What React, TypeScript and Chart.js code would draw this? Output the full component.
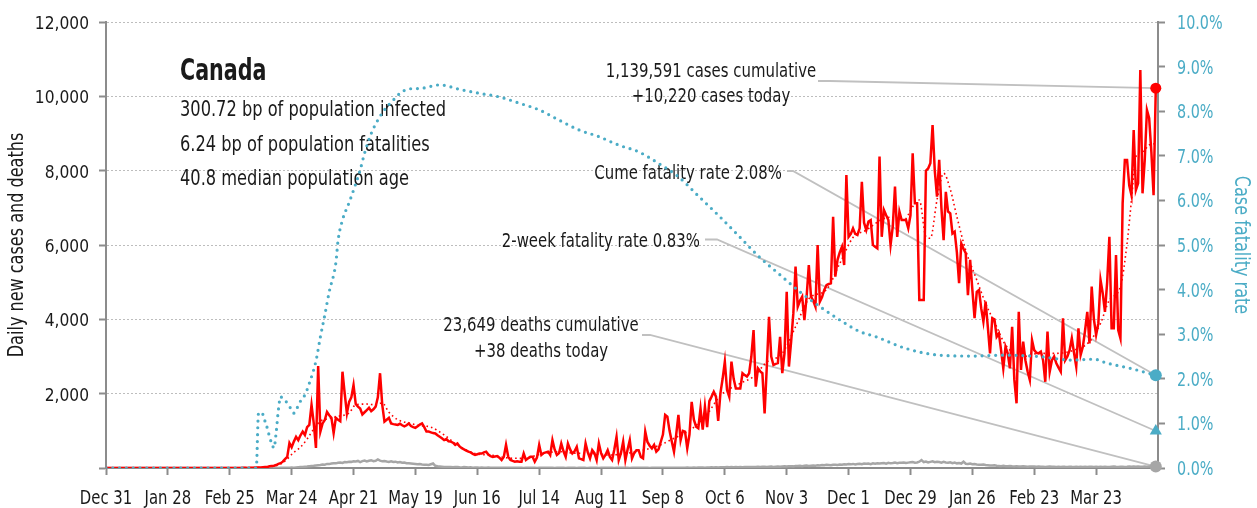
import React, { useEffect, useRef } from 'react';
import { Chart, registerables } from 'chart.js';

Chart.register(...registerables);

const FONT = "'Liberation Sans Narrow', 'DejaVu Sans Condensed', 'Arial Narrow', sans-serif";
const RED = '#ff0000';
const TEAL = '#4bacc6';
const GRAY = '#a6a6a6';
const AXIS = '#8c8c8c';
const TEXT = '#1a1a1a';

// x ticks: day index from Dec 31, 2019
const tickDays = [0, 28, 56, 84, 112, 140, 168, 196, 224, 252, 280, 308, 336, 364, 392, 420, 448];
const tickLabels = ['Dec 31', 'Jan 28', 'Feb 25', 'Mar 24', 'Apr 21', 'May 19', 'Jun 16', 'Jul 14', 'Aug 11', 'Sep 8', 'Oct 6', 'Nov 3', 'Dec 1', 'Dec 29', 'Jan 26', 'Feb 23', 'Mar 23'];
const axisMaxDay = 476;

// daily new cases, one value per day starting Dec 31, 2019
const dailyCases = [
  0, 0, 0, 0, 0, 0, 0, 0, 0, 0,
  0, 0, 0, 0, 0, 0, 0, 0, 0, 0,
  0, 0, 0, 0, 0, 1, 0, 1, 0, 0,
  1, 0, 1, 1, 0, 0, 0, 0, 0, 1,
  0, 0, 0, 0, 0, 0, 0, 0, 0, 0,
  0, 1, 0, 1, 0, 1, 1, 2, 1, 2,
  3, 3, 6, 4, 3, 5, 8, 6, 12, 15,
  15, 20, 25, 30, 45, 55, 60, 80, 110, 130,
  170, 240, 300, 670, 560, 710, 840, 750, 880, 980,
  890, 1100, 1160, 1700, 1210, 540, 2745, 980, 1200, 1290,
  1510, 1420, 1350, 940, 1350, 1300, 1260, 2590, 2010, 1470,
  1780, 1900, 2230, 1720, 1650, 1600, 1440, 1500, 1560, 1620,
  1530, 1580, 1650, 1900, 2550, 1700, 1250, 1300, 1350, 1200,
  1180, 1170, 1160, 1190, 1150, 1120, 1150, 1200, 1130, 1100,
  1080, 1120, 1170, 1200, 1100, 980, 980, 960, 940, 930,
  880, 840, 800, 750, 780, 720, 710, 680, 620, 660,
  580, 530, 500, 470, 440, 420, 380, 350, 370, 390,
  390, 420, 440, 360, 320, 300, 310, 320, 280, 215,
  300, 620, 300, 215, 190, 170, 180, 170, 170, 390,
  215, 260, 300, 300, 170, 280, 620, 350, 400, 420,
  440, 350, 750, 500, 350, 400, 660, 450, 300, 660,
  500, 390, 450, 570, 260, 240, 215, 660, 420, 260,
  480, 400, 215, 660, 400, 260, 350, 480, 300, 215,
  500, 840, 215, 400, 710, 215, 500, 750, 260, 400,
  480, 480, 300, 260, 980, 700, 600, 530, 620, 440,
  500, 700, 900, 1430, 1380, 1000, 710, 440, 900, 1430,
  750, 1000, 980, 530, 900, 1780, 1300, 1110, 1070, 1600,
  1030, 1650, 1100, 1800, 1920, 2050, 1920, 1270, 2010, 2400,
  2860, 2100, 1920, 2860, 2400, 2140, 2140, 2140, 2550, 2500,
  2460, 2550, 3000, 3710, 2190, 2680, 2600, 2550, 1470, 2730,
  4070, 3000, 2770, 2800, 2820, 3530, 2550, 3085, 4740, 2730,
  3400, 4160, 5420, 4340, 4500, 4610, 3980, 4600, 5460, 4610,
  4500, 4340, 6000, 4475, 4600, 4790, 4920, 4950, 4970, 6760,
  5150, 5600, 5800, 5950, 5460, 7880, 6220, 6300, 6450, 6300,
  6270, 6450, 7700, 6600, 6400, 6630, 6670, 6000, 5950, 5910,
  8380, 6220, 6940, 6800, 6670, 6000, 6500, 7570, 6220, 6900,
  6670, 6670, 6670, 6450, 6800, 8470, 7120, 7120, 4520, 4520,
  4520, 8000, 8060, 8200, 9230, 8000, 7300, 8290, 7000, 6130,
  7430, 6900, 6850, 6310, 6360, 5800, 4970, 6040, 5900, 5780,
  4650, 5600, 4800, 4030, 4740, 4790, 4300, 3940, 4475, 3800,
  3085, 4030, 4000, 3530, 3620, 3170, 2680, 3260, 3085, 2680,
  3800, 2370, 1740, 4200, 2640, 3400, 2900, 2600, 2370, 3440,
  3170, 3100, 3085, 3130, 2900, 2320, 3670, 2590, 2900, 3000,
  2820, 2700, 2590, 4030, 2900, 3000, 3170, 3490, 3100, 2730,
  3760, 3040, 3260, 3700, 4200, 3350, 4880, 4000, 3580, 3890,
  5060, 4700, 4200, 5000, 6220, 3760, 3760, 5730, 3710, 3490,
  7120, 8290, 8290, 7600, 7340, 9090, 7480, 7660, 10710, 7390,
  8290, 9630, 9410, 8500, 7340, 10220,
];

// daily deaths, one value per day starting Dec 31, 2019
const dailyDeaths = [
  0, 0, 0, 0, 0, 0, 0, 0, 0, 0,
  0, 0, 0, 0, 0, 0, 0, 0, 0, 0,
  0, 0, 0, 0, 0, 0, 0, 0, 0, 0,
  0, 0, 0, 0, 0, 0, 0, 0, 0, 0,
  0, 0, 0, 0, 0, 0, 0, 0, 0, 0,
  0, 0, 0, 0, 0, 0, 0, 0, 0, 0,
  0, 0, 0, 0, 0, 0, 0, 0, 0, 1,
  0, 0, 0, 1, 0, 1, 2, 3, 1, 4,
  5, 6, 8, 9, 12, 10, 15, 20, 25, 27,
  33, 40, 50, 55, 60, 70, 75, 80, 95, 90,
  110, 105, 120, 130, 125, 140, 150, 135, 160, 155,
  170, 165, 180, 175, 190, 160, 185, 200, 175, 195,
  210, 185, 195, 230, 200, 180, 190, 175, 165, 180,
  160, 170, 150, 160, 140, 145, 130, 125, 120, 115,
  110, 100, 105, 95, 90, 85, 80, 100, 120, 60,
  45, 40, 35, 30, 30, 25, 30, 20, 25, 30,
  20, 15, 25, 20, 15, 20, 10, 15, 12, 10,
  15, 10, 8, 12, 10, 8, 10, 6, 8, 10,
  7, 5, 6, 8, 5, 4, 6, 7, 5, 3,
  5, 6, 4, 8, 5, 3, 4, 6, 5, 7,
  4, 5, 6, 3, 5, 4, 6, 7, 3, 5,
  4, 6, 5, 3, 4, 5, 7, 4, 3, 5,
  6, 4, 5, 3, 6, 4, 5, 7, 4, 5,
  3, 5, 6, 4, 5, 4, 6, 3, 5, 6,
  4, 5, 7, 4, 6, 5, 3, 6, 8, 5,
  6, 4, 7, 8, 5, 6, 9, 7, 8, 10,
  8, 6, 9, 11, 7, 10, 12, 9, 13, 11,
  14, 10, 15, 13, 17, 15, 20, 16, 22, 18,
  21, 25, 19, 24, 22, 26, 20, 28, 23, 25,
  27, 30, 24, 29, 26, 32, 28, 31, 35, 27,
  33, 38, 30, 36, 40, 34, 42, 45, 38, 48,
  50, 44, 55, 52, 60, 48, 58, 65, 55, 62,
  70, 64, 75, 68, 78, 72, 85, 80, 74, 88,
  90, 82, 95, 88, 100, 92, 105, 98, 110, 95,
  108, 115, 100, 120, 112, 118, 105, 125, 115, 130,
  120, 128, 135, 118, 140, 125, 132, 145, 130, 138,
  140, 150, 135, 145, 155, 160, 140, 150, 170, 215,
  160, 175, 150, 165, 180, 155, 170, 160, 145, 165,
  150, 140, 155, 130, 145, 125, 135, 120, 170, 115,
  110, 120, 100, 105, 95, 90, 85, 95, 80, 75,
  70, 65, 75, 60, 55, 50, 60, 45, 50, 55,
  45, 40, 50, 42, 38, 45, 40, 35, 42, 38,
  40, 35, 38, 32, 36, 30, 34, 38, 32, 35,
  30, 33, 28, 35, 31, 29, 36, 32, 30, 34,
  28, 32, 30, 35, 27, 31, 33, 29, 36, 30,
  32, 28, 35, 30, 26, 33, 38, 31, 29, 34,
  36, 30, 33, 41, 35, 38, 32, 40, 36, 34,
  39, 35, 42, 37, 33, 38,
];

// 7-day average of cases (dotted red), read at sample days
const avgDays = [0, 70, 75, 80, 85, 88, 91, 94, 97, 101, 105, 110, 113, 118, 122, 125, 128, 132, 137, 142, 147, 153, 159, 167, 175, 182, 189, 197, 205, 212, 220, 228, 235, 243, 250, 257, 265, 272, 278, 287, 293, 299, 306, 312, 318, 326, 332, 338, 344, 350, 355, 361, 365, 368, 371, 373, 376, 379, 382, 385, 389, 394, 398, 403, 407, 415, 422, 430, 438, 445, 450, 454, 459, 462, 464, 466, 469, 472, 475];
const avgCases = [0, 10, 40, 140, 420, 560, 780, 1050, 1260, 1330, 1390, 1480, 1700, 1720, 1700, 1750, 1500, 1300, 1210, 1140, 1100, 890, 620, 390, 340, 270, 260, 380, 440, 400, 390, 350, 390, 480, 600, 800, 1050, 1450, 1950, 2280, 2460, 2850, 3085, 3800, 4550, 4800, 5500, 6200, 6400, 6650, 6750, 6670, 7030, 7210, 6220, 6180, 7210, 7930, 7500, 6760, 5860, 5060, 4430, 3800, 3310, 3000, 3085, 3085, 3170, 3400, 3890, 4520, 4880, 6040, 7210, 8380, 8510, 8690, 8730];

// cumulative case fatality rate (%), read at sample days
const cfrDays = [0, 68, 69, 70, 71, 72, 73, 74, 75, 76, 77, 78, 79, 80, 82, 84, 85, 86, 88, 90, 92, 95, 97, 99, 101, 104, 105, 107, 110, 112, 115, 117, 120, 123, 126, 130, 133, 137, 142, 151, 160, 169, 178, 187, 196, 205, 214, 223, 232, 241, 250, 259, 268, 277, 286, 295, 305, 314, 323, 332, 341, 348, 362, 377, 392, 407, 422, 437, 447, 453, 463, 475];
const cfrValues = [0, 0, 1.23, 1.25, 1.2, 1.04, 0.89, 0.7, 0.55, 0.45, 0.8, 1.3, 1.6, 1.55, 1.46, 1.3, 1.23, 1.3, 1.5, 1.64, 1.9, 2.4, 2.94, 3.43, 3.95, 4.6, 5.1, 5.56, 5.95, 6.23, 6.68, 7.06, 7.5, 7.8, 8.03, 8.25, 8.4, 8.5, 8.51, 8.59, 8.49, 8.4, 8.32, 8.18, 8.03, 7.8, 7.58, 7.43, 7.24, 7.09, 6.83, 6.53, 6.1, 5.67, 5.22, 4.76, 4.33, 3.95, 3.62, 3.32, 3.06, 2.95, 2.68, 2.53, 2.51, 2.53, 2.5, 2.42, 2.44, 2.35, 2.24, 2.08];

const cumeFatalityRate = 2.08;
const twoWeekFatalityRate = 0.83;
const cumulativeCases = '1,139,591';
const cumulativeDeaths = '23,649';

const statLines = ['300.72 bp of population infected', '6.24 bp of population fatalities', '40.8 median population age'];

const fmt = (n: number) => n.toLocaleString('en-US');
const xLabel = (v: number) => {
  const i = tickDays.indexOf(Number(v));
  return i >= 0 ? tickLabels[i] : '';
};
const yLabel = (v: number) => (Number(v) === 0 ? '' : fmt(Number(v)));
const pctLabel = (v: number) => `${Number(v).toFixed(1)}%`;

export default function App() {
  const ref = useRef<HTMLCanvasElement | null>(null);

  useEffect(() => {
    const canvas = ref.current;
    if (!canvas) return;
    const lastDay = dailyCases.length - 1;
    const lastCases = dailyCases[lastDay];
    const lastDeaths = dailyDeaths[dailyDeaths.length - 1];

    // draws text horizontally condensed (the reference uses a narrow face)
    const text = (ctx: any, s: string, x: number, y: number, font: string, align: string, sx: number, color: string, rot = 0) => {
      ctx.save();
      ctx.translate(x, y);
      if (rot) ctx.rotate(rot);
      ctx.scale(sx, 1);
      ctx.font = font;
      ctx.fillStyle = color;
      ctx.textAlign = align;
      ctx.fillText(s, 0, 0);
      ctx.restore();
    };

    const annotations = {
      id: 'annotations',
      beforeDatasetsDraw(chart: any) {
        const { ctx, chartArea } = chart;
        const xs = chart.scales.x;
        const ys = chart.scales.y;
        const y1 = chart.scales.y1;
        const mx = xs.getPixelForValue(lastDay);
        ctx.save();

        // axis titles
        const midY = (chartArea.top + chartArea.bottom) / 2;
        ctx.textBaseline = 'middle';
        text(ctx, 'Daily new cases and deaths', 18, midY, `21px ${FONT}`, 'center', 0.85, TEXT, -Math.PI / 2);
        text(ctx, 'Case fatality rate', 1240, midY, `21px ${FONT}`, 'center', 0.85, TEAL, Math.PI / 2);
        ctx.textBaseline = 'alphabetic';

        // title block
        text(ctx, 'Canada', 180, 80, `bold 31px ${FONT}`, 'left', 0.74, TEXT);
        statLines.forEach((t, i) => text(ctx, t, 180, 116 + i * 34.5, `22px ${FONT}`, 'left', 0.82, TEXT));

        // annotation texts
        const af = `19.5px ${FONT}`;
        text(ctx, `${cumulativeCases} cases cumulative`, 711, 77, af, 'center', 0.85, TEXT);
        text(ctx, `+${fmt(lastCases)} cases today`, 711, 102, af, 'center', 0.85, TEXT);
        text(ctx, `${cumulativeDeaths} deaths cumulative`, 541, 331, af, 'center', 0.85, TEXT);
        text(ctx, `+${fmt(lastDeaths)} deaths today`, 541, 357, af, 'center', 0.85, TEXT);
        text(ctx, `Cume fatality rate ${cumeFatalityRate.toFixed(2)}%`, 782, 179, af, 'right', 0.85, TEXT);
        text(ctx, `2-week fatality rate ${twoWeekFatalityRate.toFixed(2)}%`, 700, 247, af, 'right', 0.85, TEXT);

        // leader lines
        ctx.strokeStyle = '#c0c0c0';
        ctx.lineWidth = 1.8;
        const leader = (x0: number, yy: number, x1: number, tx: number, ty: number) => {
          ctx.beginPath();
          ctx.moveTo(x0, yy);
          ctx.lineTo(x1, yy);
          ctx.lineTo(tx, ty);
          ctx.stroke();
        };
        leader(818, 81, 830, mx, ys.getPixelForValue(lastCases));
        leader(787, 171, 793, mx, y1.getPixelForValue(cumeFatalityRate));
        leader(705, 239.5, 717, mx, y1.getPixelForValue(twoWeekFatalityRate));
        leader(642, 335, 650, mx, ys.getPixelForValue(lastDeaths));
        ctx.restore();
      },
      afterDraw(chart: any) {
        // tick labels, placed from the library's own scale ticks
        const { ctx } = chart;
        const xs = chart.scales.x;
        const ys = chart.scales.y;
        const y1 = chart.scales.y1;
        ctx.save();
        ctx.textBaseline = 'alphabetic';
        ys.ticks.forEach((t: any) => {
          const lab = yLabel(t.value);
          if (lab) text(ctx, lab, 89, ys.getPixelForValue(t.value) + 7, `18.5px ${FONT}`, 'right', 0.93, TEXT);
        });
        y1.ticks.forEach((t: any) => {
          text(ctx, pctLabel(t.value), 1177, y1.getPixelForValue(t.value) + 7, `19px ${FONT}`, 'left', 0.84, TEAL);
        });
        xs.ticks.forEach((t: any) => {
          const lab = xLabel(t.value);
          if (lab) text(ctx, lab, xs.getPixelForValue(t.value), 503.5, `19px ${FONT}`, 'center', 0.87, TEXT);
        });
        ctx.restore();
      },
    };

    const chart = new Chart(canvas, {
      type: 'line',
      data: {
        datasets: [
          {
            label: 'cases marker',
            data: [{ x: lastDay, y: lastCases }],
            yAxisID: 'y',
            showLine: false,
            pointRadius: 5.5,
            pointBackgroundColor: RED,
            pointBorderWidth: 0,
            clip: false,
            order: -1,
          },
          {
            label: 'cfr marker',
            data: [{ x: lastDay, y: cumeFatalityRate }],
            yAxisID: 'y1',
            showLine: false,
            pointRadius: 6,
            pointBackgroundColor: TEAL,
            pointBorderWidth: 0,
            clip: false,
            order: -1,
          },
          {
            label: '2wk marker',
            data: [{ x: lastDay, y: twoWeekFatalityRate }],
            yAxisID: 'y1',
            showLine: false,
            pointStyle: 'triangle',
            pointRadius: 7,
            pointBackgroundColor: TEAL,
            pointBorderWidth: 0,
            clip: false,
            order: -1,
          },
          {
            label: 'deaths marker',
            data: [{ x: lastDay, y: lastDeaths }],
            yAxisID: 'y',
            showLine: false,
            pointRadius: 6,
            pointBackgroundColor: GRAY,
            pointBorderWidth: 0,
            clip: false,
            order: -1,
          },
          {
            label: 'Case fatality rate',
            data: cfrDays.map((d, i) => ({ x: d, y: cfrValues[i] })),
            yAxisID: 'y1',
            borderColor: TEAL,
            borderWidth: 3.2,
            borderDash: [0, 6.8],
            borderCapStyle: 'round',
            cubicInterpolationMode: 'monotone',
            pointRadius: 0,
            order: 0,
          },
          {
            label: '7-day average',
            data: avgDays.map((d, i) => ({ x: d, y: avgCases[i] })),
            yAxisID: 'y',
            borderColor: RED,
            borderWidth: 1.6,
            borderDash: [1.6, 3],
            cubicInterpolationMode: 'monotone',
            pointRadius: 0,
            order: 1,
          },
          {
            label: 'Daily cases',
            data: dailyCases.map((v, i) => ({ x: i, y: v })),
            yAxisID: 'y',
            borderColor: RED,
            borderWidth: 2.5,
            pointRadius: 0,
            tension: 0,
            order: 2,
          },
          {
            label: 'Daily deaths',
            data: dailyDeaths.map((v, i) => ({ x: i, y: v })),
            yAxisID: 'y',
            borderColor: GRAY,
            borderWidth: 2.5,
            pointRadius: 0,
            tension: 0,
            order: 3,
          },
        ],
      },
      options: {
        animation: false,
        responsive: false,
        devicePixelRatio: 1,
        layout: { padding: { top: 22, left: 0, right: 0, bottom: 0 } },
        plugins: {
          legend: { display: false },
          tooltip: { enabled: false },
        },
        scales: {
          x: {
            type: 'linear',
            min: 0,
            max: axisMaxDay,
            afterBuildTicks: (s: any) => {
              s.ticks = tickDays.map((v) => ({ value: v }));
            },
            afterFit: (s: any) => {
              s.height = 40;
            },
            ticks: {
              display: false,
              autoSkip: false,
              maxRotation: 0,
              callback: (v: any) => xLabel(v),
            },
            grid: {
              drawOnChartArea: false,
              drawTicks: true,
              tickLength: 7,
              tickColor: AXIS,
              tickWidth: 2,
            },
            border: { color: AXIS, width: 2 },
          },
          y: {
            position: 'left',
            min: 0,
            max: 12000,
            afterFit: (s: any) => {
              s.width = 106;
            },
            ticks: {
              display: false,
              stepSize: 2000,
              callback: (v: any) => yLabel(v),
            },
            grid: {
              color: '#bdbdbd',
              lineWidth: 1,
              tickLength: 7,
              tickColor: AXIS,
              tickWidth: 2,
            },
            border: { color: AXIS, width: 2, dash: [2, 2] },
          },
          y1: {
            position: 'right',
            min: 0,
            max: 10,
            afterFit: (s: any) => {
              s.width = 99;
            },
            ticks: {
              display: false,
              stepSize: 1,
              callback: (v: any) => pctLabel(v),
            },
            grid: {
              drawOnChartArea: false,
              tickLength: 7,
              tickColor: AXIS,
              tickWidth: 2,
            },
            border: { color: AXIS, width: 2 },
          },
        },
      },
      plugins: [annotations],
    } as any);

    return () => chart.destroy();
  }, []);

  return (
    <div style={{ position: 'absolute', left: 0, top: 0, width: 1257, height: 508, background: '#fff' }}>
      <canvas ref={ref} width={1257} height={508} style={{ display: 'block', width: 1257, height: 508 }} />
    </div>
  );
}
